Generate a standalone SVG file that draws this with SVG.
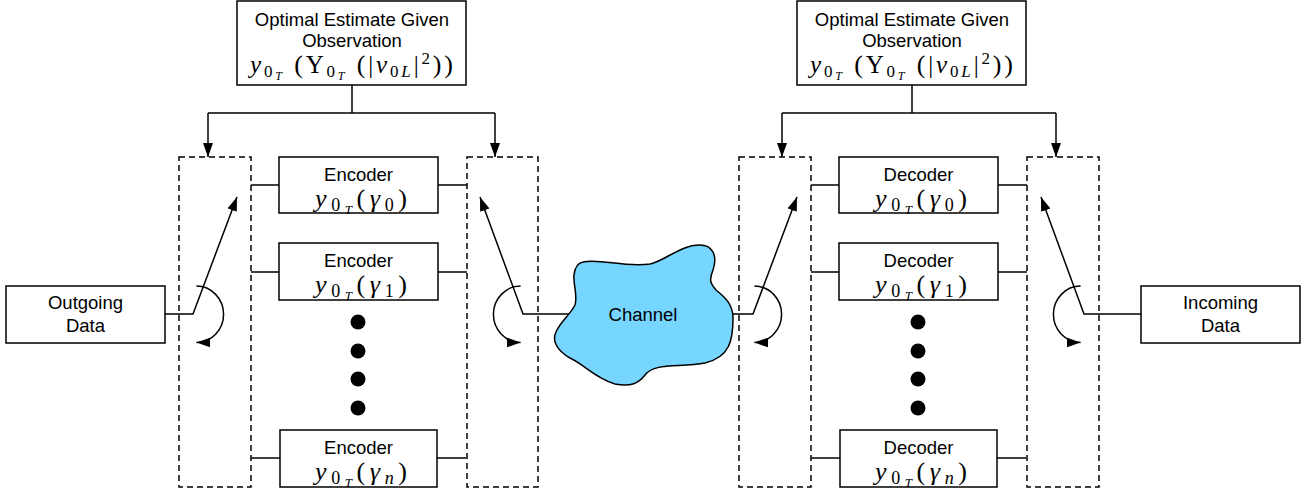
<svg xmlns="http://www.w3.org/2000/svg" width="1310" height="492" viewBox="0 0 1310 492">
<defs>
<style>
.box{fill:#fff;stroke:#000;stroke-width:1.5}
.dash{fill:none;stroke:#000;stroke-width:1.5;stroke-dasharray:6,4}
.ln{fill:none;stroke:#000;stroke-width:1.5}
.lbl{font-family:"Liberation Sans",Arial,sans-serif;font-size:18.5px;fill:#000;text-anchor:middle}
.math{font-family:"Liberation Serif","Times New Roman",serif;fill:#000}
.it{font-style:italic}
.dot{fill:#000}
</style>
<marker id="ah" markerUnits="userSpaceOnUse" markerWidth="15" markerHeight="11" refX="14" refY="5" orient="auto">
<path d="M0,0 L14,5 L0,10 z" fill="#000"/>
</marker>
</defs>
<rect width="1310" height="492" fill="#fff"/>

<g id="connectors">
<path class="ln" d="M352,85 V113 M208,113 H495 M912,85 V113 M782,113 H1056"/>
<path class="ln" d="M208,113 V157" marker-end="url(#ah)"/>
<path class="ln" d="M495,113 V157" marker-end="url(#ah)"/>
<path class="ln" d="M782,113 V157" marker-end="url(#ah)"/>
<path class="ln" d="M1056,113 V157" marker-end="url(#ah)"/>
<path class="ln" d="M251,185 H279 M251,272 H279 M251,458 H280 M438,185 H467 M438,272 H467 M437,458 H466"/>
<path class="ln" d="M811,185 H839 M811,272 H839 M811,458 H840 M998,185 H1027 M998,272 H1027 M997,458 H1026"/>
<path class="ln" d="M165,314 H193 L237,197" marker-end="url(#ah)"/>
<path class="ln" d="M196.4,286.1 A27,28 0 0 1 196.4,342.5" marker-end="url(#ah)"/>
<path class="ln" d="M570,314 H523 L480,197" marker-end="url(#ah)"/>
<path class="ln" d="M520.6,286.1 A27,28 0 0 0 520.6,342.5" marker-end="url(#ah)"/>
<path class="ln" d="M730,314 H753 L797,197" marker-end="url(#ah)"/>
<path class="ln" d="M754.4,286.1 A27,28 0 0 1 754.4,342.5" marker-end="url(#ah)"/>
<path class="ln" d="M1141,314 H1084 L1041,197" marker-end="url(#ah)"/>
<path class="ln" d="M1080.6,286.1 A27,28 0 0 0 1080.6,342.5" marker-end="url(#ah)"/>
</g>

<g id="switch-boxes">
<rect id="sw1" class="dash" x="179" y="157" width="72" height="330"/>
<rect id="sw2" class="dash" x="467" y="157" width="71" height="330"/>
<rect id="sw3" class="dash" x="739" y="157" width="72" height="330"/>
<rect id="sw4" class="dash" x="1027" y="157" width="72" height="330"/>
</g>

<g id="est-left">
<rect class="box" x="237" y="1" width="229" height="84"/>
<text class="lbl" x="352" y="26">Optimal Estimate Given</text>
<text class="lbl" x="352" y="47">Observation</text>
<text class="math" x="250" y="73" font-size="25" textLength="203" lengthAdjust="spacing"><tspan class="it">y</tspan><tspan font-size="17" dy="4">0</tspan><tspan class="it" font-size="12" dy="3">T</tspan><tspan font-size="26" dy="-7"> (</tspan><tspan>Υ</tspan><tspan font-size="17" dy="4">0</tspan><tspan class="it" font-size="12" dy="3">T</tspan><tspan font-size="26" dy="-7"> (</tspan><tspan>|</tspan><tspan class="it">ν</tspan><tspan font-size="17" dy="4">0</tspan><tspan class="it" font-size="17">L</tspan><tspan dy="-4">|</tspan><tspan font-size="17" dy="-9">2</tspan><tspan font-size="26" dy="9">))</tspan></text>
</g>

<g id="est-right">
<rect class="box" x="797" y="1" width="229" height="84"/>
<text class="lbl" x="912" y="26">Optimal Estimate Given</text>
<text class="lbl" x="912" y="47">Observation</text>
<text class="math" x="810" y="73" font-size="25" textLength="203" lengthAdjust="spacing"><tspan class="it">y</tspan><tspan font-size="17" dy="4">0</tspan><tspan class="it" font-size="12" dy="3">T</tspan><tspan font-size="26" dy="-7"> (</tspan><tspan>Υ</tspan><tspan font-size="17" dy="4">0</tspan><tspan class="it" font-size="12" dy="3">T</tspan><tspan font-size="26" dy="-7"> (</tspan><tspan>|</tspan><tspan class="it">ν</tspan><tspan font-size="17" dy="4">0</tspan><tspan class="it" font-size="17">L</tspan><tspan dy="-4">|</tspan><tspan font-size="17" dy="-9">2</tspan><tspan font-size="26" dy="9">))</tspan></text>
</g>

<g id="outgoing">
<rect class="box" x="6" y="286" width="159" height="57"/>
<text class="lbl" x="85.5" y="309">Outgoing</text>
<text class="lbl" x="85.5" y="332">Data</text>
</g>

<g id="incoming">
<rect class="box" x="1141" y="286" width="159" height="57"/>
<text class="lbl" x="1220.5" y="309">Incoming</text>
<text class="lbl" x="1220.5" y="332">Data</text>
</g>

<g id="channel">
<path d="M583,262 C600,258 625,268 650,264 C665,261 680,245 700,245 C712,245 718,255 713,270 C709,280 710,283 716,290 C726,298 733,305 733,318 C733,340 730,357 705,363 C680,368 655,362 645,375 C638,384 630,387 615,384 C595,378 585,365 570,358 C556,350 552,340 556,332 C560,322 570,315 575,305 C578,295 573,285 574,275 C575,266 578,263 583,262 Z" fill="#76d6ff" stroke="#000" stroke-width="1.5"/>
<text class="lbl" x="643" y="321">Channel</text>
</g>

<g id="enc0">
<rect class="box" x="279" y="157" width="159" height="56"/>
<text class="lbl" x="358.5" y="181">Encoder</text>
<text class="math" x="315" y="207" font-size="26" textLength="92" lengthAdjust="spacing"><tspan class="it">y</tspan><tspan font-size="18" dy="4">0</tspan><tspan class="it" font-size="13" dy="3">T</tspan><tspan dy="-7">(</tspan><tspan class="it">γ</tspan><tspan font-size="18" dy="4">0</tspan><tspan dy="-4">)</tspan></text>
</g>
<g id="enc1">
<rect class="box" x="279" y="243" width="159" height="57"/>
<text class="lbl" x="358.5" y="267">Encoder</text>
<text class="math" x="315" y="293" font-size="26" textLength="92" lengthAdjust="spacing"><tspan class="it">y</tspan><tspan font-size="18" dy="4">0</tspan><tspan class="it" font-size="13" dy="3">T</tspan><tspan dy="-7">(</tspan><tspan class="it">γ</tspan><tspan font-size="18" dy="4">1</tspan><tspan dy="-4">)</tspan></text>
</g>
<g id="enc-dots">
<circle class="dot" cx="358" cy="322" r="7.5"/>
<circle class="dot" cx="358" cy="351" r="7.5"/>
<circle class="dot" cx="358" cy="379" r="7.5"/>
<circle class="dot" cx="358" cy="408" r="7.5"/>
</g>
<g id="encn">
<rect class="box" x="280" y="430" width="157" height="57"/>
<text class="lbl" x="358.5" y="454">Encoder</text>
<text class="math" x="315" y="480" font-size="26" textLength="92" lengthAdjust="spacing"><tspan class="it">y</tspan><tspan font-size="18" dy="4">0</tspan><tspan class="it" font-size="13" dy="3">T</tspan><tspan dy="-7">(</tspan><tspan class="it">γ</tspan><tspan class="it" font-size="18" dy="4">n</tspan><tspan dy="-4">)</tspan></text>
</g>

<g id="dec0">
<rect class="box" x="839" y="157" width="159" height="56"/>
<text class="lbl" x="918.5" y="181">Decoder</text>
<text class="math" x="875" y="207" font-size="26" textLength="92" lengthAdjust="spacing"><tspan class="it">y</tspan><tspan font-size="18" dy="4">0</tspan><tspan class="it" font-size="13" dy="3">T</tspan><tspan dy="-7">(</tspan><tspan class="it">γ</tspan><tspan font-size="18" dy="4">0</tspan><tspan dy="-4">)</tspan></text>
</g>
<g id="dec1">
<rect class="box" x="839" y="243" width="159" height="57"/>
<text class="lbl" x="918.5" y="267">Decoder</text>
<text class="math" x="875" y="293" font-size="26" textLength="92" lengthAdjust="spacing"><tspan class="it">y</tspan><tspan font-size="18" dy="4">0</tspan><tspan class="it" font-size="13" dy="3">T</tspan><tspan dy="-7">(</tspan><tspan class="it">γ</tspan><tspan font-size="18" dy="4">1</tspan><tspan dy="-4">)</tspan></text>
</g>
<g id="dec-dots">
<circle class="dot" cx="918" cy="322" r="7.5"/>
<circle class="dot" cx="918" cy="351" r="7.5"/>
<circle class="dot" cx="918" cy="379" r="7.5"/>
<circle class="dot" cx="918" cy="408" r="7.5"/>
</g>
<g id="decn">
<rect class="box" x="840" y="430" width="157" height="57"/>
<text class="lbl" x="918.5" y="454">Decoder</text>
<text class="math" x="875" y="480" font-size="26" textLength="92" lengthAdjust="spacing"><tspan class="it">y</tspan><tspan font-size="18" dy="4">0</tspan><tspan class="it" font-size="13" dy="3">T</tspan><tspan dy="-7">(</tspan><tspan class="it">γ</tspan><tspan class="it" font-size="18" dy="4">n</tspan><tspan dy="-4">)</tspan></text>
</g>
</svg>
